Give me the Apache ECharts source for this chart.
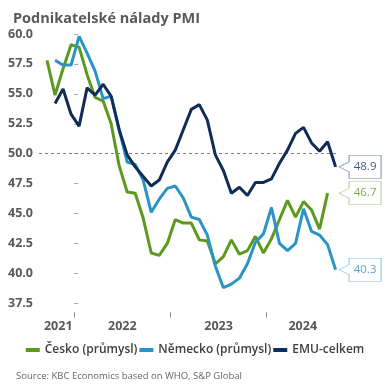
<!DOCTYPE html>
<html><head><meta charset="utf-8">
<script src="https://cdn.jsdelivr.net/npm/echarts@6/dist/echarts.min.js"></script>
<style>html,body{margin:0;padding:0;background:#fff}#c{width:390px;height:390px}</style>
</head><body><div id="c"></div>
<script>
const months = ['2021-09','2021-10','2021-11','2021-12',
  '2022-01','2022-02','2022-03','2022-04','2022-05','2022-06','2022-07','2022-08','2022-09','2022-10','2022-11','2022-12',
  '2023-01','2023-02','2023-03','2023-04','2023-05','2023-06','2023-07','2023-08','2023-09','2023-10','2023-11','2023-12',
  '2024-01','2024-02','2024-03','2024-04','2024-05','2024-06','2024-07','2024-08','2024-09'];
// Česko: Sep 2021 – Aug 2024
const cesko = [57.8, 54.9, 57.1, 59.1, 58.9, 56.6, 54.7, 54.4, 52.5, 49.0, 46.8, 46.7,
  44.6, 41.7, 41.5, 42.5, 44.5, 44.2, 44.2, 42.8, 42.7, 40.8, 41.4, 42.8,
  41.6, 41.9, 43.1, 41.7, 42.9, 44.5, 46.1, 44.7, 46.0, 45.3, 43.7, 46.7];
// Německo & EMU: Oct 2021 – Sep 2024
const nemecko = [57.8, 57.4, 57.4, 59.8, 58.4, 56.9, 54.6, 54.8, 52.0, 49.3, 49.1, 47.8,
  45.1, 46.2, 47.1, 47.3, 46.3, 44.7, 44.5, 43.2, 40.6, 38.8, 39.1, 39.6,
  40.8, 42.6, 43.3, 45.5, 42.5, 41.9, 42.5, 45.4, 43.5, 43.2, 42.4, 40.3];
const emu = [54.2, 55.4, 53.3, 52.3, 55.5, 54.9, 55.8, 54.8, 52.0, 49.9, 48.9, 48.1,
  47.3, 47.8, 49.3, 50.3, 52.0, 53.7, 54.1, 52.8, 49.9, 48.6, 46.7, 47.2,
  46.5, 47.6, 47.6, 47.9, 49.2, 50.3, 51.7, 52.2, 50.9, 50.2, 51.0, 48.9];
const seriesNames = ['Česko (průmysl)', 'Německo (průmysl)', 'EMU-celkem'];
const yearLabels = ['2021', '2022', '2023', '2024'];

const C_GREEN = '#5c9a1f', C_BLUE = '#2a95c5', C_NAVY = '#0f2d57';
const FONT = 'Open Sans';

function pos(m) { const p = m.split('-').map(Number); return (p[0] - 2022) * 12 + (p[1] - 1) + 0.6; }
const czData = cesko.map((v, i) => [pos(months[i]), v]);
const deData = nemecko.map((v, i) => [pos(months[i + 1]), v]);
const emuData = emu.map((v, i) => [pos(months[i + 1]), v]);
const endX = pos(months[months.length - 1]);

const callout = 'path://M0,11.5L10,6.5L10,0L42,0L42,23L10,23L10,16.5Z';
function endLabel(v, color, border) {
  return {
    type: 'scatter', data: [[endX, v]], symbol: callout, symbolSize: [42, 23], symbolOffset: [24.5, 0],
    itemStyle: { color: '#fff', borderColor: border, borderWidth: 1 },
    label: { show: true, position: 'inside', offset: [5, 0], formatter: () => v.toFixed(1), color: color, fontSize: 11.5, fontFamily: FONT },
    silent: true, z: 10, clip: false, tooltip: { show: false }
  };
}
function line(name, data, color, extra) {
  return Object.assign({ type: 'line', name: name, data: data, color: color, showSymbol: false, symbol: 'none',
    lineStyle: { width: 3, color: color }, itemStyle: { color: color }, clip: false, z: 3 }, extra || {});
}

const chart = echarts.init(document.getElementById('c'), null, { renderer: 'canvas' });
chart.setOption({
  animation: false,
  backgroundColor: '#fff',
  title: [
    { text: 'Podnikatelské nálady PMI', left: 8, top: 6, textStyle: { fontFamily: FONT, fontSize: 14.5, fontWeight: 'bold', color: '#595959' } },
    { text: 'Source: KBC Economics based on WHO, S&P Global', left: 11, top: 366, textStyle: { fontFamily: FONT, fontSize: 9.5, fontWeight: 'normal', color: '#666' } }
  ],
  legend: {
    data: seriesNames, top: 339, left: 'center', icon: 'rect', itemWidth: 14, itemHeight: 4, itemGap: 2,
    textStyle: { fontFamily: FONT, fontSize: 12, fontWeight: 600, color: '#404040' }
  },
  grid: { left: 39, right: 52, top: 34, bottom: 86.7 },
  xAxis: {
    type: 'value', min: -4.4, max: 32.9, offset: 9,
    axisLine: { show: false }, splitLine: { show: false },
    axisTick: { show: true, length: 5, lineStyle: { color: '#8c8c8c' }, customValues: [0, 12, 24] },
    axisLabel: { show: true, margin: 8, customValues: [-2, 6, 18, 28.5],
      formatter: v => yearLabels[Math.floor(v / 12) + 1],
      fontFamily: FONT, fontSize: 12.5, fontWeight: 'bold', color: '#595959' }
  },
  yAxis: {
    type: 'value', min: 37.5, max: 60, interval: 2.5,
    axisLine: { show: false }, splitLine: { show: false },
    axisTick: { show: true, inside: true, length: 4, lineStyle: { color: '#a6a6a6' } },
    axisLabel: { margin: 6, formatter: v => v.toFixed(1), fontFamily: FONT, fontSize: 12.5, fontWeight: 'bold', color: '#595959' }
  },
  series: [
    line(seriesNames[0], czData, C_GREEN, {
      markLine: { silent: true, symbol: 'none', label: { show: false }, data: [{ yAxis: 50 }],
        lineStyle: { type: [3, 3], color: '#7f7f7f', width: 1 }, z: 1 }
    }),
    line(seriesNames[1], deData, C_BLUE),
    line(seriesNames[2], emuData, C_NAVY),
    endLabel(emu[emu.length - 1], C_NAVY, '#8494ab'),
    endLabel(cesko[cesko.length - 1], C_GREEN, '#b0cc8e'),
    endLabel(nemecko[nemecko.length - 1], C_BLUE, '#8ec5dd')
  ]
});
</script></body></html>
